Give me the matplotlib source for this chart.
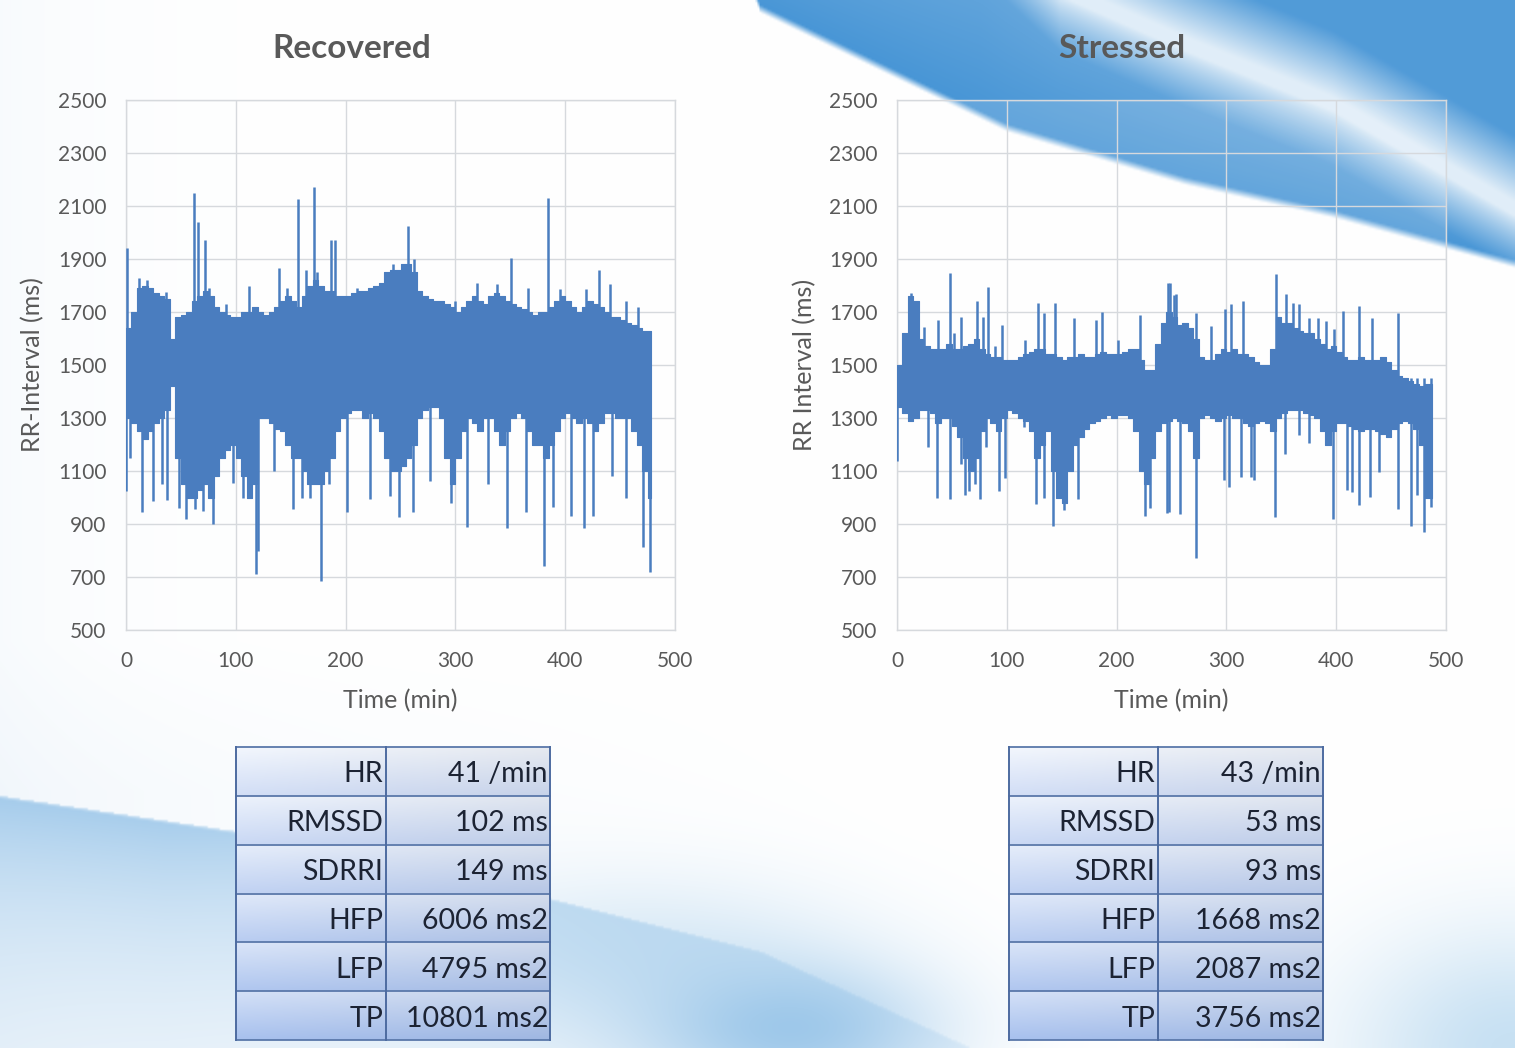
import numpy as np
import matplotlib
matplotlib.use("Agg")
import matplotlib.pyplot as plt

plt.rcParams['font.family'] = ['Lato', 'DejaVu Sans']

# ---------------- data ----------------
BIN_MIN = 5  # width of the envelope bins (minutes)

# Recovered night: RR-interval envelope per 5-min bin (ms)
REC_END = 478
REC_HI = [1640, 1700, 1790, 1800, 1790, 1770, 1760, 1750, 1600, 1680,
          1690, 1700, 1740, 1760, 1780, 1760, 1720, 1700, 1690, 1680,
          1680, 1700, 1700, 1720, 1700, 1690, 1700, 1720, 1740, 1760,
          1740, 1720, 1760, 1800, 1820, 1800, 1780, 1780, 1760, 1760,
          1760, 1770, 1780, 1780, 1790, 1800, 1810, 1850, 1860, 1860,
          1880, 1880, 1850, 1780, 1760, 1750, 1740, 1740, 1730, 1720,
          1700, 1720, 1740, 1760, 1740, 1730, 1760, 1770, 1760, 1740,
          1730, 1720, 1710, 1700, 1690, 1700, 1700, 1720, 1740, 1760,
          1740, 1720, 1700, 1720, 1740, 1730, 1720, 1700, 1680, 1680,
          1670, 1660, 1650, 1640, 1630, 1630]
REC_LO = [1300, 1280, 1250, 1220, 1250, 1280, 1300, 1330, 1420, 1150,
          1050, 1000, 1000, 1030, 1050, 1000, 1080, 1150, 1180, 1200,
          1150, 1080, 1000, 1050, 1300, 1300, 1280, 1260, 1250, 1200,
          1150, 1150, 1100, 1050, 1050, 1050, 1100, 1150, 1250, 1300,
          1320, 1330, 1330, 1300, 1320, 1300, 1250, 1150, 1100, 1100,
          1120, 1150, 1200, 1300, 1330, 1340, 1340, 1300, 1150, 1050,
          1150, 1250, 1300, 1280, 1250, 1300, 1300, 1250, 1200, 1250,
          1300, 1320, 1300, 1250, 1200, 1200, 1150, 1200, 1250, 1300,
          1320, 1300, 1280, 1300, 1280, 1250, 1280, 1320, 1320, 1300,
          1300, 1300, 1250, 1200, 1100, 1000]
# isolated beats outside the envelope (time in min, RR in ms)
REC_SPIKE_T = [1, 12, 19, 36, 62, 66, 72, 76, 91, 112, 139, 147, 157, 164,
               171, 174, 187, 190, 210, 232, 243, 249, 257, 262, 300, 320,
               338, 351, 366, 384, 395, 419, 431, 441, 455, 466,
               0, 4, 15, 25, 33, 37, 48, 55, 63, 70, 79, 97, 107, 118, 120,
               135, 152, 160, 168, 178, 185, 201, 222, 240, 249, 261, 277,
               296, 311, 330, 347, 364, 381, 389, 405, 417, 425, 443, 455,
               471, 477]
REC_SPIKE_V = [1940, 1830, 1820, 1775, 2150, 2040, 1970, 1790, 1730, 1800,
               1865, 1790, 2125, 1860, 2170, 1850, 1970, 1970, 1790, 1810,
               1880, 1860, 2025, 1900, 1740, 1810, 1805, 1905, 1790, 2130,
               1785, 1785, 1860, 1805, 1740, 1720,
               1025, 1150, 945, 985, 1050, 990, 960, 920, 955, 950, 900,
               1055, 1000, 710, 800, 1100, 955, 1000, 1000, 685, 1050, 945,
               993, 1005, 925, 945, 1062, 980, 890, 1050, 885, 945, 742,
               965, 930, 885, 930, 1080, 1000, 815, 717]

# Stressed night
STR_END = 487
STR_HI = [1500, 1620, 1760, 1740, 1600, 1570, 1560, 1560, 1560, 1580,
          1560, 1560, 1570, 1580, 1600, 1560, 1540, 1530, 1530, 1520,
          1520, 1520, 1530, 1540, 1550, 1560, 1560, 1540, 1540, 1530,
          1520, 1530, 1530, 1540, 1530, 1530, 1540, 1550, 1540, 1540,
          1540, 1550, 1560, 1560, 1520, 1480, 1480, 1580, 1660, 1700,
          1680, 1650, 1660, 1640, 1600, 1530, 1520, 1520, 1540, 1560,
          1550, 1560, 1540, 1540, 1530, 1510, 1500, 1500, 1560, 1680,
          1660, 1660, 1640, 1630, 1620, 1620, 1600, 1580, 1560, 1570,
          1550, 1530, 1520, 1520, 1530, 1520, 1520, 1520, 1530, 1510,
          1480, 1460, 1450, 1440, 1430, 1420, 1430]
STR_LO = [1340, 1320, 1290, 1300, 1330, 1330, 1320, 1280, 1300, 1300,
          1270, 1230, 1150, 1100, 1150, 1250, 1300, 1280, 1250, 1300,
          1330, 1320, 1300, 1290, 1250, 1150, 1200, 1250, 1100, 1000,
          980, 1100, 1200, 1230, 1260, 1280, 1290, 1300, 1310, 1300,
          1310, 1310, 1300, 1250, 1100, 1050, 1150, 1250, 1280, 1290,
          1300, 1290, 1280, 1250, 1150, 1300, 1310, 1300, 1290, 1300,
          1310, 1300, 1300, 1280, 1270, 1280, 1290, 1280, 1250, 1300,
          1320, 1330, 1330, 1330, 1320, 1310, 1300, 1250, 1200, 1250,
          1280, 1280, 1270, 1260, 1250, 1260, 1260, 1250, 1240, 1230,
          1260, 1280, 1290, 1280, 1260, 1200, 1000]
STR_SPIKE_T = [13, 25, 37, 48, 52, 58, 73, 78, 83, 89, 96, 117, 128, 134,
               144, 161, 181, 187, 201, 221, 247, 249, 252, 254, 272, 286,
               299, 304, 315, 345, 354, 361, 366, 375, 383, 391, 398, 406,
               421, 433, 456,
               0, 28, 36, 48, 58, 62, 66, 71, 76, 81, 93, 98, 116, 127, 134,
               142, 152, 165, 226, 230, 246, 248, 258, 272, 298, 302, 313,
               322, 325, 344, 353, 366, 375, 397, 410, 414, 421, 431, 439,
               456, 468, 474, 480, 486]
STR_SPIKE_V = [1770, 1645, 1670, 1847, 1620, 1682, 1740, 1682, 1796, 1570,
               1650, 1594, 1733, 1695, 1733, 1676, 1670, 1701, 1594, 1688,
               1809, 1811, 1765, 1767, 1697, 1647, 1710, 1729, 1742, 1843,
               1767, 1735, 1729, 1678, 1678, 1666, 1634, 1704, 1723, 1678,
               1697,
               1138, 1189, 1000, 993, 1125, 1011, 1024, 1050, 993, 1189,
               1024, 1075, 1265, 974, 1000, 891, 954, 993, 929, 960, 942,
               944, 938, 773, 1065, 1039, 1077, 1077, 1065, 925, 1166, 1235,
               1204, 919, 1027, 1020, 970, 1001, 1096, 957, 894, 1008, 868,
               963]

TABLE_LABELS = ["HR", "RMSSD", "SDRRI", "HFP", "LFP", "TP"]
REC_TABLE = ["41 /min", "102 ms", "149 ms", "6006 ms2", "4795 ms2", "10801 ms2"]
STR_TABLE = ["43 /min", "53 ms", "93 ms", "1668 ms2", "2087 ms2", "3756 ms2"]

X_TICKS = [0, 100, 200, 300, 400, 500]
Y_TICKS = [500, 700, 900, 1100, 1300, 1500, 1700, 1900, 2100, 2300, 2500]

# ---------------- layout helpers ----------------
W, H = 1515, 1048
fig = plt.figure(figsize=(W / 100, H / 100), dpi=100)


def rect(l, t, r, b):
    return [l / W, 1 - b / H, (r - l) / W, (b - t) / H]


# ---------------- decorative background ----------------
ys, xs = np.mgrid[0:H:2, 0:W:2].astype(float)
img = np.ones(xs.shape + (3,))


def blend(im, color, alpha):
    a = np.clip(alpha, 0, 1)[..., None]
    return im * (1 - a) + np.array(color) * a


# faint tint along the left edge and lower area
img = blend(img, (0.72, 0.83, 0.93), 0.10 * np.exp(-xs / 120))
img = blend(img, (0.72, 0.83, 0.93), 0.10 * np.clip((ys - 640) / 150, 0, 1) * np.clip(1 - xs / 900, 0, 1))

# top-right swoosh: lower band, light streak, upper band
edge = np.interp(xs, [740, 760, 1007, 1185, 1333, 1515], [-40, 8, 127, 180, 213, 263])
yh = np.interp(xs, [740, 980, 1060, 1185, 1333, 1515], [-120, -80, -5, 50, 110, 215])
inside = np.clip((edge - ys) / 8 + 0.5, 0, 1)
s = np.clip((ys - yh) / np.maximum(edge - yh, 1), 0, 1)
alpha_a = 0.15 + 0.55 * np.clip((ys - yh) / 55, 0, 1) ** 0.8 + 0.2 * s
alpha_b = np.maximum(0.15, np.clip((yh - ys) / 80, 0, 1) * 0.85)
alpha_top = np.where(ys >= yh, alpha_a, alpha_b) * inside
img = blend(img, (0.20, 0.54, 0.82), alpha_top)

# lower-left swoosh
yb = np.interp(xs, [0, 233, 500, 760, 1000], [795, 830, 885, 950, 1060])
below = ys - yb
alpha_bl = np.where(below > 0, 0.55 * np.exp(-below / 150), 0) * np.clip(below / 6 + 0.5, 0, 1)
alpha_bl *= np.clip(1.15 - xs / 1100, 0, 1)
img = blend(img, (0.40, 0.66, 0.87), alpha_bl)

# soft waves near the bottom
g1 = 0.55 * np.exp(-(((xs - 790) / 150) ** 2 + ((ys - 1030) / 70) ** 2))
g2 = 0.28 * np.exp(-(((xs - 640) / 220) ** 2 + ((ys - 950) / 80) ** 2))
g3 = 0.40 * np.exp(-(((xs - 1515) / 170) ** 2 + ((ys - 1048) / 120) ** 2))
img = blend(img, (0.40, 0.66, 0.87), g1)
img = blend(img, (0.55, 0.75, 0.90), g2)
img = blend(img, (0.45, 0.70, 0.88), g3)

bg = fig.add_axes([0, 0, 1, 1], zorder=-10)
bg.imshow(img, extent=[0, W, H, 0], aspect='auto', interpolation='bilinear')
bg.set_xlim(0, W)
bg.set_ylim(H, 0)
bg.axis('off')

# ---------------- charts ----------------
LINE_C = '#4a7dbf'
TXT_C = '#595959'
GRID_C = '#d6d9dd'


def rr_chart(box, hi, lo, t_end, sp_t, sp_v, base, title, title_x, ylabel, ylabel_x, xlabel_x):
    ax = fig.add_axes(rect(*box))
    ax.set_facecolor((1, 1, 1, 0.15))
    n = len(hi)
    edges = np.append(np.arange(n) * BIN_MIN, t_end).astype(float)
    hi_s = np.append(hi, hi[-1])
    lo_s = np.append(lo, lo[-1])
    ax.fill_between(edges, lo_s, hi_s, step='post', color=LINE_C, lw=0.8,
                    edgecolor=LINE_C, zorder=3)
    ax.vlines(sp_t, base, sp_v, color=LINE_C, lw=1.8, zorder=3)
    ax.set_xlim(0, 500)
    ax.set_ylim(500, 2500)
    ax.set_xticks(X_TICKS)
    ax.set_yticks(Y_TICKS)
    ax.grid(True, color=GRID_C, lw=1.0, zorder=0)
    ax.set_axisbelow(True)
    for sp in ax.spines.values():
        sp.set_color(GRID_C)
        sp.set_linewidth(1.0)
    ax.tick_params(length=0, labelsize=15, labelcolor=TXT_C)
    ax.tick_params(axis='y', pad=14)
    ax.tick_params(axis='x', pad=15)
    fig.text(title_x / W, 1 - 48 / H, title, ha='center', va='center',
             fontsize=24, fontweight='bold', color=TXT_C)
    fig.text(ylabel_x / W, 1 - 365 / H, ylabel, ha='center', va='center',
             rotation=90, fontsize=18, color=TXT_C)
    fig.text(xlabel_x / W, 1 - 701 / H, "Time (min)", ha='center', va='center',
             fontsize=18, color=TXT_C)
    return ax


rr_chart((126, 100, 675, 630), REC_HI, REC_LO, REC_END, REC_SPIKE_T, REC_SPIKE_V,
         1500, "Recovered", 352, "RR-Interval (ms)", 33, 400)
rr_chart((897, 100, 1446, 630), STR_HI, STR_LO, STR_END, STR_SPIKE_T, STR_SPIKE_V,
         1450, "Stressed", 1122, "RR Interval (ms)", 805, 1171)


# ---------------- summary tables ----------------
def mix(c1, c2, f):
    c1 = np.array(matplotlib.colors.to_rgb(c1))
    c2 = np.array(matplotlib.colors.to_rgb(c2))
    return c1 * (1 - f) + c2 * f


def draw_table(l, t, r, b, split, labels, values):
    tax = fig.add_axes(rect(l - 2, t - 2, r + 2, b + 2))
    tax.set_xlim(l - 2, r + 2)
    tax.set_ylim(b + 2, t - 2)
    tax.axis('off')
    n = len(labels)
    rh = (b - t) / n
    gx = np.linspace(0, 1, 40)[None, :]
    gy = np.linspace(0, 1, 20)[:, None]
    for i in range(n):
        y0 = t + i * rh
        f = i / (n - 1)
        top = mix('#f2f6fd', '#d3e0f7', f)
        bot = mix('#d2def6', '#a8c1ee', f)
        cell = top[None, None, :] * (1 - gy[..., None]) + bot[None, None, :] * gy[..., None]
        cell = cell * (1 - 0.05 * gx[..., None])
        cell = np.broadcast_to(cell, (20, 40, 3))
        tax.imshow(np.clip(cell, 0, 1), extent=[l, r, y0 + rh, y0], aspect='auto',
                   interpolation='bilinear', zorder=1)
        tax.text(split - 3, y0 + rh * 0.56, labels[i], ha='right', va='center',
                 fontsize=20.5, color='#1c2333', zorder=3)
        tax.text(r - 2, y0 + rh * 0.56, values[i], ha='right', va='center',
                 fontsize=20.5, color='#1c2333', zorder=3)
    for i in range(n + 1):
        tax.plot([l, r], [t + i * rh] * 2, color='#5a78aa', lw=1.3, zorder=2)
    for x in (l, split, r):
        tax.plot([x, x], [t, b], color='#4d6ba0', lw=1.4, zorder=2)
    tax.set_xlim(l - 2, r + 2)
    tax.set_ylim(b + 2, t - 2)


draw_table(236, 747, 550, 1040, 386, TABLE_LABELS, REC_TABLE)
draw_table(1009, 747, 1323, 1040, 1158, TABLE_LABELS, STR_TABLE)

fig.savefig("out.png", dpi=100)
